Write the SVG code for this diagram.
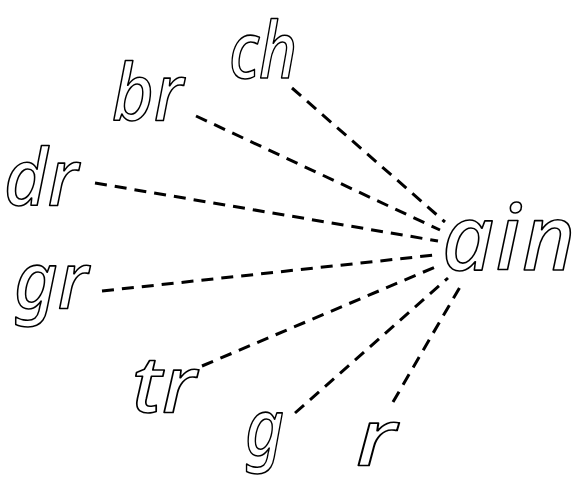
<svg xmlns="http://www.w3.org/2000/svg" width="576" height="493" viewBox="0 0 576 493">
<style>
.lbl{font-family:"Noto Sans","DejaVu Sans",sans-serif;font-style:italic;font-weight:500;fill:#fff;stroke:#000;stroke-width:1.6;stroke-linejoin:round}
.c{stroke:#000;stroke-width:3;stroke-dasharray:12 8;fill:none}
</style>
<rect width="576" height="493" fill="#fff"/>
<g id="connectors">
<line class="c" x1="292" y1="88" x2="445" y2="222"/>
<line class="c" x1="196" y1="116" x2="440" y2="230"/>
<line class="c" x1="95" y1="183" x2="438" y2="241"/>
<line class="c" x1="102" y1="291" x2="435" y2="255"/>
<line class="c" x1="202" y1="366" x2="440" y2="265"/>
<line class="c" x1="295" y1="413" x2="448" y2="278"/>
<line class="c" x1="393" y1="402" x2="460" y2="287"/>
</g>
<g id="ch"><text class="lbl" x="229" y="78" font-size="78" textLength="68" lengthAdjust="spacingAndGlyphs">ch</text></g>
<g id="br"><text class="lbl" x="112" y="120" font-size="78" textLength="71" lengthAdjust="spacingAndGlyphs">br</text></g>
<g id="dr"><text class="lbl" x="4" y="205" font-size="78" textLength="74" lengthAdjust="spacingAndGlyphs">dr</text></g>
<g id="gr"><text class="lbl" x="14" y="308" font-size="78" textLength="74" lengthAdjust="spacingAndGlyphs">gr</text></g>
<g id="tr"><text class="lbl" x="132" y="412" font-size="78" textLength="64" lengthAdjust="spacingAndGlyphs">tr</text></g>
<g id="g"><text class="lbl" x="245" y="455" font-size="78" textLength="39" lengthAdjust="spacingAndGlyphs">g</text></g>
<g id="r"><text class="lbl" x="356" y="465" font-size="78" textLength="40" lengthAdjust="spacingAndGlyphs">r</text></g>
<g id="ain"><text class="lbl" x="442" y="270" font-size="90" textLength="133" lengthAdjust="spacing">ain</text></g>
</svg>
